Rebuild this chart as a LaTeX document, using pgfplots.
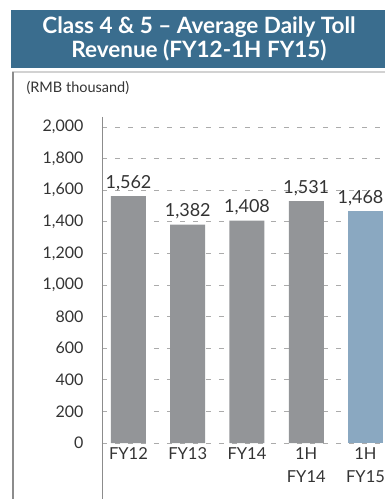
\documentclass[border=0pt]{standalone}
\usepackage{fontspec}
\setmainfont{Lato}
\usepackage{pgfplots}
\pgfplotsset{compat=1.18}
\definecolor{banner}{HTML}{3A6D8E}
\definecolor{bargray}{HTML}{939598}
\definecolor{barblue}{HTML}{8AA8C1}
\definecolor{txt}{HTML}{333333}
\definecolor{gridc}{HTML}{ABABAB}
\definecolor{frame}{HTML}{8C8C8C}

\begin{document}
\begin{tikzpicture}[x=1pt,y=1pt]
\useasboundingbox (0pt,0pt) rectangle (385pt,499pt);
% title banner
\fill[banner] (11pt,431pt) rectangle (385pt,489pt);
\node[white, font=\fontsize{22.5}{23.5}\selectfont\bfseries, align=center] at (199pt,460pt)
  {Class 4 \& 5 – Average Daily Toll\\Revenue (FY12-1H FY15)};
% panel frame
\draw[gray!35, line width=1.2pt] (12pt,427pt) -- (385pt,427pt);
\draw[frame, line width=2pt] (13pt,427pt) -- (13pt,0pt);
\node[anchor=base west, text=txt, font=\fontsize{14.5}{16}\selectfont] at (23pt,406pt) {(RMB thousand)};

\begin{axis}[
  at={(102pt,56pt)}, anchor=south west,
  width=283pt, height=316pt, scale only axis,
  xmin=-0.447, xmax=4.329, ymin=0, ymax=2000,
  ytick={0,200,...,2000},
  xtick={0,...,4},
  xticklabels={FY12,FY13,FY14,{1H\\FY14},{1H\\FY15}},
  axis line style={draw=none},
  major tick length=0pt,
  ymajorgrids,
  grid style={gridc, line width=0.9pt, dash pattern=on 5pt off 8pt},
  /pgf/number format/.cd, 1000 sep={,}, assume math mode=true,
  /pgfplots/.cd,
  yticklabel style={text=txt, font=\fontsize{16}{18}\selectfont, xshift=-15pt},
  xticklabel style={text=txt, font=\fontsize{16.5}{23}\selectfont, align=center, yshift=-1pt},
  ybar, bar width=35pt, bar shift=0pt,
  nodes near coords,
  nodes near coords style={text=txt, font=\fontsize{18}{20}\selectfont, yshift=2pt},
  clip=false,
]
\addplot[fill=bargray, draw=none] coordinates {(0,1562) (1,1382) (2,1408) (3,1531)};
\addplot[fill=barblue, draw=none, nodes near coords style={xshift=-5pt}] coordinates {(4,1468)};
\end{axis}
% vertical axis rule
\draw[frame, line width=1pt] (102pt,382pt) -- (102pt,0pt);
\end{tikzpicture}
\end{document}
